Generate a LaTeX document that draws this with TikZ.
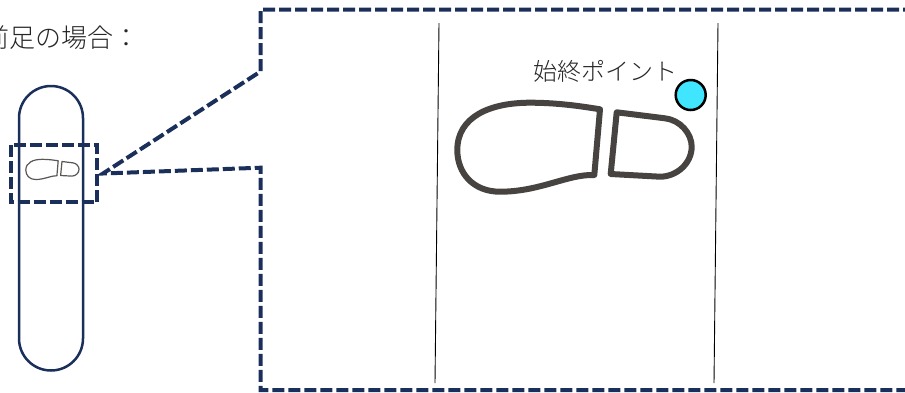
\documentclass[tikz,border=0pt]{standalone}
\usepackage{fontspec}
\usepackage{xcolor}
\newfontfamily\jpfont{Noto Sans CJK JP Light}
\definecolor{navy}{HTML}{1B2F5B}
\definecolor{shoegray}{HTML}{474341}
\definecolor{startblue}{HTML}{40E6FF}
\tikzset{
    calloutline/.style={navy, line width=4pt, dash pattern=on 12pt off 4pt, line join=miter},
    jptext/.style={text=black!85, font=\jpfont\fontsize{24}{28}\selectfont, inner sep=0pt},
    shoe/.pic={
        \draw[pic actions, line join=round] (600,109.3) -- (594.3,175)
            .. controls (568,174) and (540,191.7) .. (500,191.7)
            .. controls (473,191.7) and (457.3,173) .. (457.3,150)
            .. controls (457.3,116.7) and (490,102.7) .. (530,102.7)
            .. controls (556.7,102.7) and (580,106) .. (600,109.3) -- cycle;
        \draw[pic actions, line join=round] (616.7,112.3) -- (665,118.3)
            .. controls (680,120) and (691.7,133.3) .. (691.7,146.7)
            .. controls (691.7,163.3) and (676.7,176.7) .. (660,176.7)
            -- (610.7,174) -- cycle;
    }
}

\begin{document}
\begin{tikzpicture}[x=1pt, y=-1pt]
        \useasboundingbox (0,0) rectangle (905,392);
        \clip (0,0) rectangle (905,392);

        % Capsule
        \draw[navy, line width=2.5pt] (19,118) arc[start angle=180, end angle=360, radius=32]
            -- (83,338.5) arc[start angle=0, end angle=180, radius=32] -- cycle;

        % Small shoe
        \pic[shoegray!90, line width=1.2pt, shift={(-78,136)}, scale=0.227] at (0,0) {shoe};

        % Small dashed frame
        \draw[calloutline] (10.5,145) rectangle (97,202);

        % Callout
        \draw[calloutline] (915,9.5) -- (260.5,9.5) -- (260.5,71.5) -- (103,173.5) -- (260.5,167.7) -- (260.5,390) -- (915,390);

        % Track lines
        \draw[black, line width=0.9pt] (439,23) -- (435,383);
        \draw[black, line width=0.9pt] (718,23) -- (714,383);

        % Big shoe
        \pic[shoegray, line width=6pt] at (0,0) {shoe};

        % Start point
        \node[draw=black, fill=startblue, line width=2.5pt, circle, minimum size=30pt, inner sep=0pt] (startpoint) at (690.7,95) {};

        % Labels
        \node[jptext, font=\jpfont\fontsize{26}{30}\selectfont, anchor=east] (caselabel) at (140,38) {前足の場合：};
        \node[jptext, anchor=east] (startlabel) at (678,71) {始終ポイント};
\end{tikzpicture}
\end{document}
